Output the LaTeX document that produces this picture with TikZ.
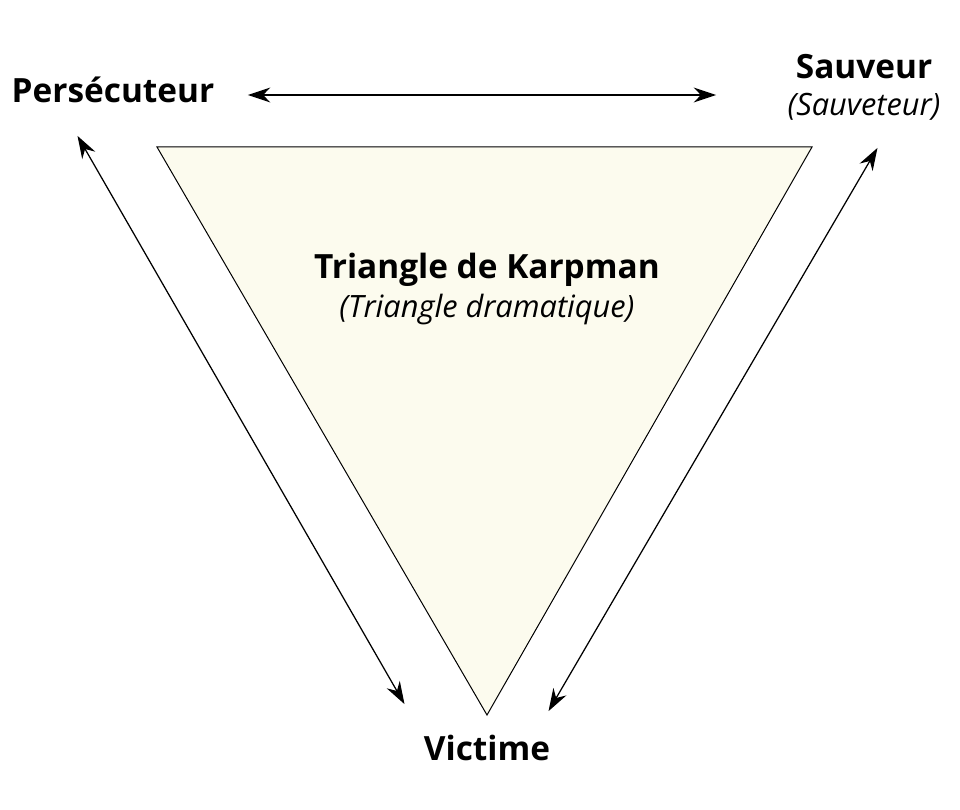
\documentclass[tikz,border=0pt]{standalone}
\usepackage{fontspec}
\setmainfont{Open Sans}
\usetikzlibrary{arrows.meta}
\definecolor{creme}{RGB}{252,251,238}
\begin{document}
\begin{tikzpicture}[x=0.02cm,y=-0.02cm]

	%DEFINICIONES
	\tikzstyle{every node}=[font=\fontsize{19}{23}\selectfont]
	\tikzstyle{titulo} = [align=center, inner sep=0pt, font=\fontsize{19}{23}\selectfont\bfseries]
	\tikzstyle{sub} = [align=center, inner sep=0pt, font=\fontsize{17.5}{21}\selectfont\itshape]
	\tikzstyle{flecha} = [{Stealth[length=4.5mm,width=3mm]}-{Stealth[length=4.5mm,width=3mm]}, line width=0.25mm]
	\tikzstyle{punto} = [inner sep=0pt, outer sep=0pt]

	\useasboundingbox (0,0) rectangle (960,810);

	%TRIANGULO
	\draw[fill=creme, line width=0.2mm] (157,147) -- (812,147) -- (487,715) -- cycle;
	\draw(487,270) node[titulo](t){Triangle de Karpman};
	\draw(487,310) node[sub](ts){(Triangle dramatique)};

	%ROLES
	\draw(113,90) node[titulo](p){Persécuteur};
	\draw(864,67) node[titulo](s){Sauveur};
	\draw(864,107) node[sub](ss){(Sauveteur)};
	\draw(487,748) node[titulo](v){Victime};

	%EXTREMOS
	\draw(247,95) node[punto](p1){};
	\draw(717,95) node[punto](s1){};
	\draw(77,135) node[punto](p2){};
	\draw(405,705) node[punto](v1){};
	\draw(878,147) node[punto](s2){};
	\draw(548,712) node[punto](v2){};

	%FLECHAS
	\draw[flecha] (p1) -- (s1);
	\draw[flecha] (p2) -- (v1);
	\draw[flecha] (s2) -- (v2);
\end{tikzpicture}
\end{document}
